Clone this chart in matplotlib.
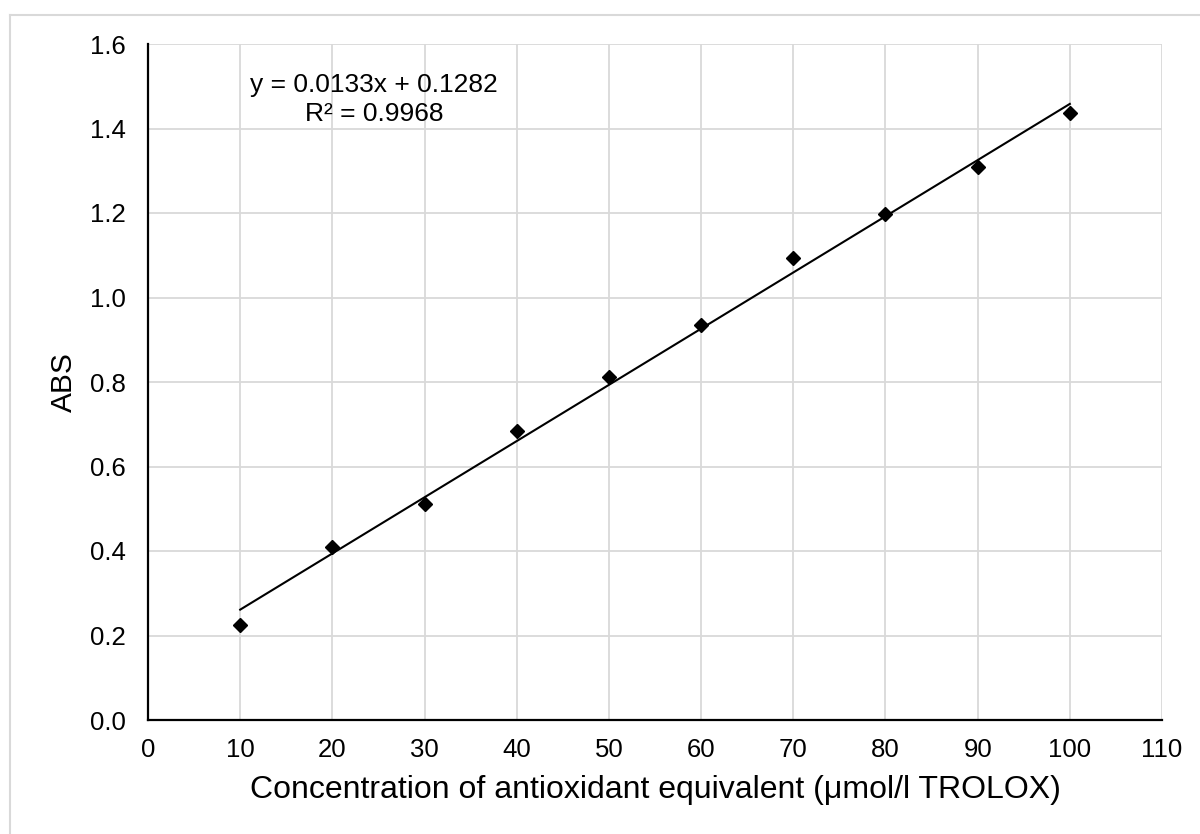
import numpy as np
import matplotlib
matplotlib.use("Agg")
import matplotlib.pyplot as plt
from matplotlib.lines import Line2D

plt.rcParams['font.family'] = ['Liberation Sans', 'DejaVu Sans']

# Trolox calibration data
concentration = [10, 20, 30, 40, 50, 60, 70, 80, 90, 100]
absorbance = [0.225, 0.410, 0.511, 0.683, 0.811, 0.935, 1.093, 1.198, 1.309, 1.436]

# Linear trendline coefficients as reported
slope = 0.0133
intercept = 0.1282
r_squared = 0.9968

x_ticks = list(range(0, 111, 10))
y_ticks = [0.0, 0.2, 0.4, 0.6, 0.8, 1.0, 1.2, 1.4, 1.6]

W, H = 1200, 834
fig = plt.figure(figsize=(W / 100, H / 100), dpi=100)
fig.patch.set_facecolor('white')

# chart-area border (left and top edges visible)
border_color = '#d9d9d9'
fig.add_artist(Line2D([10 / W, 10 / W], [1 - 15 / H, 0], transform=fig.transFigure,
                      color=border_color, lw=1.5))
fig.add_artist(Line2D([10 / W, 1], [1 - 15 / H, 1 - 15 / H], transform=fig.transFigure,
                      color=border_color, lw=1.5))

ax_left, ax_top, ax_w, ax_h = 148, 44, 1014, 676
ax = fig.add_axes([ax_left / W, 1 - (ax_top + ax_h) / H, ax_w / W, ax_h / H])
ax.set_xlim(0, 110)
ax.set_ylim(0, 1.6)
ax.set_xticks(x_ticks)
ax.set_yticks(y_ticks)
ax.set_xticklabels([str(v) for v in x_ticks])
ax.set_yticklabels([f"{v:.1f}" for v in y_ticks])

ax.grid(True, color='#d9d9d9', lw=1.3)
ax.set_axisbelow(True)
for s in ['top', 'right']:
    ax.spines[s].set_visible(False)
for s in ['left', 'bottom']:
    ax.spines[s].set_color('black')
    ax.spines[s].set_linewidth(1.6)
ax.tick_params(axis='both', length=0, labelsize=18.5, colors='black')
ax.tick_params(axis='y', pad=16)
ax.tick_params(axis='x', pad=13)

# trendline
xt = np.array([concentration[0], concentration[-1]])
ax.plot(xt, slope * xt + intercept, color='black', lw=1.5, zorder=3)

# measured points
ax.plot(concentration, absorbance, linestyle='none', marker='D', markersize=6.8,
        color='black', zorder=4, clip_on=False)

ax.text(24.5, 1.469, f"y = {slope:.4f}x + {intercept:.4f}\nR² = {r_squared:.4f}",
        ha='center', va='center', fontsize=19, linespacing=1.25, color='black')

xl = ax.set_xlabel("Concentration of antioxidant equivalent (μmol/l TROLOX)", fontsize=23)
xl.set_va('center')
ax.xaxis.set_label_coords(0.5, -(790 - (ax_top + ax_h)) / ax_h)
yl = ax.set_ylabel("ABS", fontsize=21.5)
yl.set_va('center')
ax.yaxis.set_label_coords(-(ax_left - 64) / ax_w, 0.5)

fig.savefig("out.png", dpi=100, facecolor='white')
